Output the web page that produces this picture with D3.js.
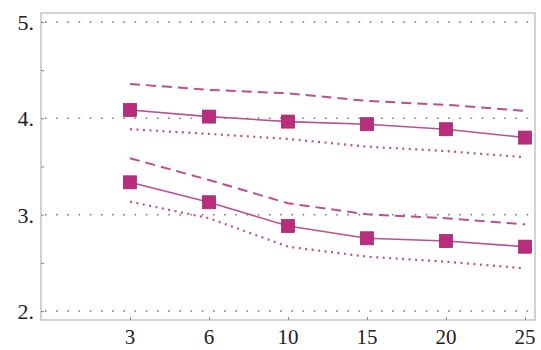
<!DOCTYPE html>
<html><head><meta charset="utf-8">
<script src="https://cdn.jsdelivr.net/npm/d3@7"></script>
<style>body{margin:0;background:#fff}svg{display:block}</style>
</head><body><svg id="c" width="541" height="350"></svg>
<script>
const categories = ["3","6","10","15","20","25"];
const yTicks = [2,3,4,5];
const yTickLabels = ["2.","3.","4.","5."];
const yMinorTicks = [2.5,3.5,4.5];
const upperMean  = [4.087,4.018,3.966,3.939,3.887,3.800];
const upperHigh  = [4.357,4.295,4.260,4.180,4.140,4.077];
const upperLow   = [3.887,3.838,3.786,3.706,3.660,3.596];
const lowerMean  = [3.336,3.129,2.883,2.755,2.727,2.668];
const lowerHigh  = [3.586,3.360,3.118,3.004,2.963,2.900];
const lowerLow   = [3.135,2.963,2.668,2.564,2.512,2.443];

const svg = d3.select("#c");
const L=41, R=535, T=13, B=320;
const FONT = "'Liberation Serif','Times New Roman','DejaVu Serif',serif";
const x = d3.scalePoint().domain(categories).range([130,525]);
const y = d3.scaleLinear().domain([1.907,5.093]).range([B,T]);

svg.append("rect").attr("x",L).attr("y",T).attr("width",R-L).attr("height",B-T)
  .attr("fill","none").attr("stroke","#b4b4b4").attr("stroke-width",1.2);

svg.append("g").selectAll("line").data(yTicks).join("line")
  .attr("x1",L+4).attr("x2",R-2).attr("y1",d=>y(d)).attr("y2",d=>y(d))
  .attr("stroke","#777").attr("stroke-width",1.6).attr("stroke-dasharray","1.6,9.6");

const ya = d3.axisLeft(y).tickValues(yTicks.concat(yMinorTicks)).tickSize(-3).tickFormat("");
const gy = svg.append("g").attr("transform",`translate(${L},0)`).call(ya);
gy.select(".domain").remove();
gy.selectAll("line").attr("stroke","#888");
const xa = d3.axisBottom(x).tickSize(-3).tickFormat("");
const gx = svg.append("g").attr("transform",`translate(0,${B})`).call(xa);
gx.select(".domain").remove();
gx.selectAll("line").attr("stroke","#888");

svg.append("g").selectAll("text").data(yTicks).join("text")
  .attr("x",34).attr("y",d=>y(d)+8).attr("text-anchor","end")
  .style("font-family",FONT).attr("font-size",22).attr("fill","#222")
  .text((d,i)=>yTickLabels[i]);
svg.append("g").selectAll("text").data(categories).join("text")
  .attr("x",d=>x(d)).attr("y",344).attr("text-anchor","middle")
  .style("font-family",FONT).attr("font-size",21).attr("fill","#222")
  .text(d=>d);

const line = d3.line().x((d,i)=>x(categories[i])).y(d=>y(d));
const col = "#bb4f8f";
function draw(data, dash, w){
  svg.append("path").datum(data).attr("d",line).attr("fill","none")
    .attr("stroke",col).attr("stroke-width",w).attr("stroke-dasharray",dash);
}
draw(upperHigh,"10,6",2);
draw(upperLow,"2,4.5",2.2);
draw(lowerHigh,"10,6",2);
draw(lowerLow,"2,4.5",2.2);
draw(upperMean,null,1.6);
draw(lowerMean,null,1.6);

[upperMean, lowerMean].forEach(data=>{
  svg.append("g").selectAll("rect").data(data).join("rect")
    .attr("x",(d,i)=>x(categories[i])-6.5).attr("y",d=>y(d)-6.5)
    .attr("width",13).attr("height",13)
    .attr("fill","#b82e7c").attr("stroke","#a02a6e").attr("stroke-width",0.8);
});
</script></body></html>
